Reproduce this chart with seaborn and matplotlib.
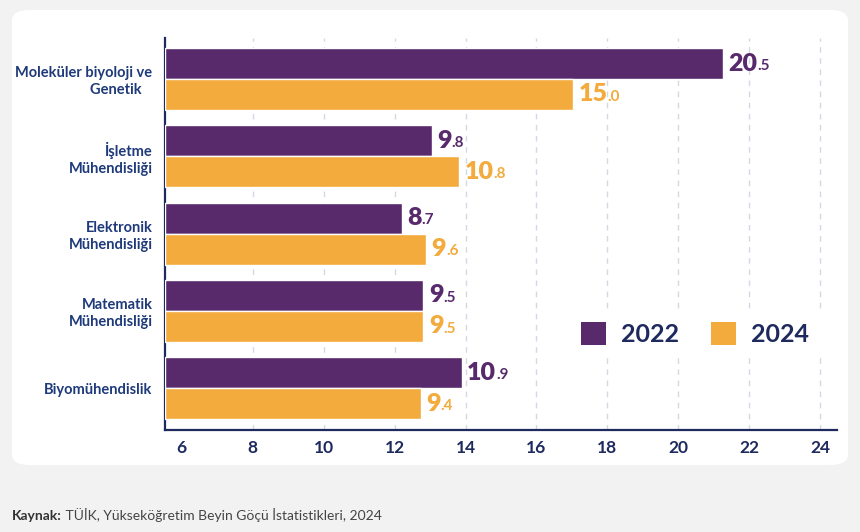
import pandas as pd
import matplotlib.pyplot as plt
import seaborn as sns
from matplotlib.patches import FancyBboxPatch, Patch

# ─── DATA ─────────────────────────────────────────────────────────────────────
CATEGORIES = [
    'Moleküler biyoloji ve\nGenetik   ',
    'İşletme\nMühendisliği',
    'Elektronik\nMühendisliği',
    'Matematik\nMühendisliği',
    'Biyomühendislik',
]
YEARS = ['2022', '2024']
VALUES_2022 = [20.5, 9.8, 8.7, 9.5, 10.9]
VALUES_2024 = [15.0, 10.8, 9.6, 9.5, 9.4]
AXIS_TICKS = [6, 8, 10, 12, 14, 16, 18, 20, 22, 24]

COLORS = {'2022': '#582a6b', '2024': '#f2ab3c'}
NAVY = '#1e2a5e'
SOURCE = 'TÜİK, Yükseköğretim Beyin Göçü İstatistikleri, 2024'

df = pd.DataFrame({
    'Alan':  CATEGORIES * 2,
    'Yıl':   ['2022'] * len(CATEGORIES) + ['2024'] * len(CATEGORIES),
    'Değer': VALUES_2022 + VALUES_2024,
})

# bars are drawn from zero, but the printed scale starts at 6 with its own spacing
def bar_to_tick(v):
    return 6 + (27.2 * v - 16.8) / 35.46

def tick_to_bar(t):
    return (16.8 + 35.46 * (t - 6)) / 27.2

# ─── PLOT ─────────────────────────────────────────────────────────────────────
sns.set_style('white')
plt.rcParams['font.family'] = ['Lato', 'DejaVu Sans']

fig = plt.figure(figsize=(8.6, 5.32), dpi=100, facecolor='#f2f2f2')
fig.patches.append(FancyBboxPatch(
    (12 / 860, 1 - 465 / 532), (848 - 12) / 860, (465 - 10) / 532,
    boxstyle='round,pad=0,rounding_size=0.02', transform=fig.transFigure,
    facecolor='white', edgecolor='none', zorder=-5))

ax = fig.add_axes([165 / 860, 1 - 430 / 532, (837 - 165) / 860, (430 - 38) / 532])
ax.set_facecolor('white')

sns.barplot(data=df, y='Alan', x='Değer', hue='Yıl', palette=COLORS,
            width=0.8, saturation=1, orient='h', ax=ax, legend=False, zorder=3)

ax.set_xlim(0, 24.7)
ax.set_ylim(4.54, -0.53)
ax.set_xlabel('')
ax.set_ylabel('')

# dashed gridlines at the printed tick positions
ax.set_xticks([tick_to_bar(t) for t in AXIS_TICKS if t > 6])
ax.tick_params(axis='x', length=0, labelbottom=False)
ax.grid(axis='x', color='#d3d8e4', linestyle=(0, (4, 4)), linewidth=1, zorder=0)

sec = ax.secondary_xaxis('bottom', functions=(bar_to_tick, tick_to_bar))
sec.set_xticks(AXIS_TICKS)
sec.tick_params(length=0, pad=7, labelsize=12.5, labelcolor=NAVY)
for lbl in sec.get_xticklabels():
    lbl.set_fontweight('bold')
sec.spines['bottom'].set_visible(False)

ax.tick_params(axis='y', length=0, pad=9, labelsize=10.5, labelcolor='#1f3a7a')
for lbl in ax.get_yticklabels():
    lbl.set_fontweight('bold')
    lbl.set_multialignment('right')
    lbl.set_linespacing(1.25)

for side in ['top', 'right']:
    ax.spines[side].set_visible(False)
for side in ['left', 'bottom']:
    ax.spines[side].set_color(NAVY)
    ax.spines[side].set_linewidth(1.6)

# value labels: large integer part, small decimal part
for year, container in zip(YEARS, ax.containers):
    for bar in container:
        val = bar.get_width()
        whole, dec = f'{val:.1f}'.split('.')
        yc = bar.get_y() + bar.get_height() / 2
        t1 = ax.annotate(whole, xy=(val, yc), xytext=(4, 0), textcoords='offset points',
                         ha='left', va='center', fontsize=18, fontweight='heavy',
                         color=COLORS[year], zorder=5)
        ax.annotate('.' + dec, xy=(1, 0.08), xycoords=t1, ha='left', va='bottom',
                    fontsize=11, fontweight='bold', color=COLORS[year], zorder=5)

handles = [Patch(facecolor=COLORS[y], edgecolor='none', label=y) for y in YEARS]
leg = ax.legend(handles=handles, ncol=2, loc='center',
                bbox_to_anchor=(695 / 860, 1 - 334 / 532), bbox_transform=fig.transFigure,
                frameon=True, facecolor='white', edgecolor='none', framealpha=1,
                handlelength=1.0, handleheight=1.0, handletextpad=0.6,
                columnspacing=1.3, borderpad=0.5,
                prop={'size': 18, 'weight': 'bold'})
for txt in leg.get_texts():
    txt.set_color(NAVY)
leg.set_zorder(6)

src = fig.text(12 / 860, 1 - 516 / 532, 'Kaynak:', fontsize=10, fontweight='bold',
               color='#333333', va='center', ha='left')
ax.annotate(' ' + SOURCE, xy=(1, 0), xycoords=src, ha='left', va='bottom',
            fontsize=10, color='#444444', annotation_clip=False)

fig.savefig('out.png', dpi=100, facecolor=fig.get_facecolor())
